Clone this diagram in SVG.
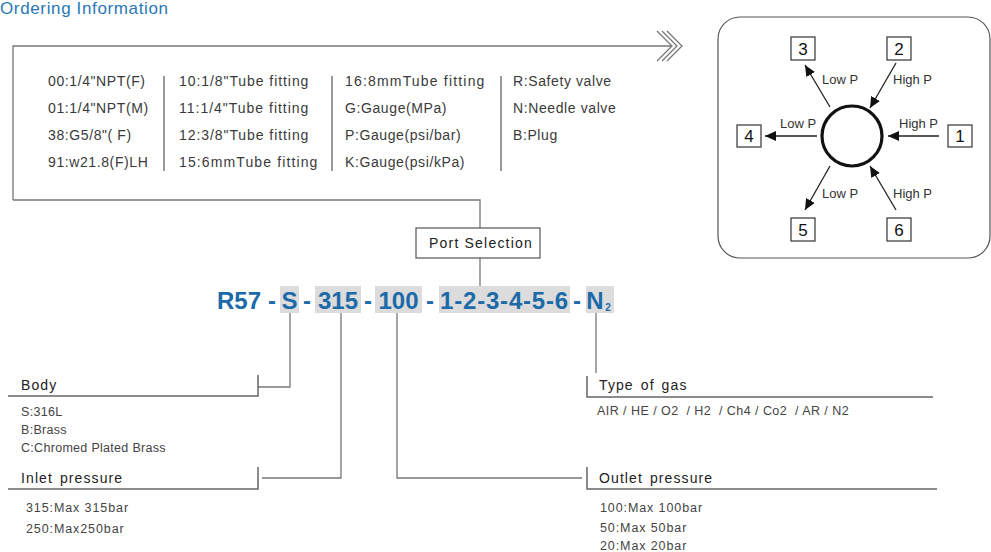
<svg xmlns="http://www.w3.org/2000/svg" width="991" height="552" viewBox="0 0 991 552">
<defs>
<marker id="ah" markerUnits="userSpaceOnUse" markerWidth="12" markerHeight="10" refX="11" refY="5" orient="auto"><path d="M0,0 L11,5 L0,10 Z" fill="#111"/></marker>
<style>
.t{font-family:"Liberation Sans",Arial,sans-serif}
.col{font-size:14px;fill:#3a3a3a;letter-spacing:0.6px}
.lab{font-size:14px;fill:#222;letter-spacing:1.1px;word-spacing:2px}
.itm{font-size:12.5px;fill:#444;letter-spacing:0.3px}
.pr{letter-spacing:0.9px}
.gas{letter-spacing:0.45px}
.code{font-size:24px;font-weight:bold;fill:#1d6aa8}
.hl{fill:#dcdcdc}
.ln{stroke:#777;stroke-width:1.3;fill:none}
.ul{stroke:#666;stroke-width:1.5;fill:none}
.sep{stroke:#555;stroke-width:1.2}
.pbox{fill:#fff;stroke:#333;stroke-width:1.2}
.pnum{font-size:17px;fill:#111;text-anchor:middle}
.plab{font-size:13px;fill:#333}
.arr{stroke:#222;stroke-width:1.3;fill:none;marker-end:url(#ah)}
</style>
</defs>
<rect width="991" height="552" fill="#fff"/>
<text class="t" x="0" y="14" font-size="17" fill="#2a78b6" textLength="168" lengthAdjust="spacing">Ordering Information</text>

<g id="connectors">
<path class="ln" d="M13,200 V46 H671"/>
<path class="ln" d="M13,200 H480 V228"/>
<path class="ln" d="M480,258 V287"/>
<polyline class="ln" points="657,31 672,46 657,61"/>
<polyline class="ln" points="662,31 677,46 662,61"/>
<polyline class="ln" points="667,31 682,46 667,61"/>
<path class="ln" d="M290,313 V387 H258"/>
<path class="ln" d="M341,313 V478 H262"/>
<path class="ln" d="M397,313 V478 H582"/>
<path class="ln" d="M596,313 V373"/>
</g>

<g id="port-options">
<line class="sep" x1="164" y1="76" x2="164" y2="171"/>
<line class="sep" x1="332" y1="76" x2="332" y2="171"/>
<line class="sep" x1="501" y1="76" x2="501" y2="171"/>
<g class="t col">
<text x="48" y="86">00:1/4"NPT(F)</text>
<text x="48" y="113">01:1/4"NPT(M)</text>
<text x="48" y="140">38:G5/8"( F)</text>
<text x="48" y="167">91:w21.8(F)LH</text>
<text x="179" y="86" textLength="130" lengthAdjust="spacing">10:1/8"Tube fitting</text>
<text x="179" y="113" textLength="130" lengthAdjust="spacing">11:1/4"Tube fitting</text>
<text x="179" y="140" textLength="130" lengthAdjust="spacing">12:3/8"Tube fitting</text>
<text x="179" y="167" textLength="139" lengthAdjust="spacing">15:6mmTube fitting</text>
<text x="345" y="86" textLength="140" lengthAdjust="spacing">16:8mmTube fitting</text>
<text x="345" y="113">G:Gauge(MPa)</text>
<text x="345" y="140">P:Gauge(psi/bar)</text>
<text x="345" y="167">K:Gauge(psi/kPa)</text>
<text x="513" y="86">R:Safety valve</text>
<text x="513" y="113">N:Needle valve</text>
<text x="513" y="140">B:Plug</text>
</g>
</g>

<g id="port-selection">
<rect x="416" y="228" width="124" height="30" fill="#fff" stroke="#555" stroke-width="1.2"/>
<text class="t" x="481" y="248" font-size="14" fill="#222" letter-spacing="1.2" text-anchor="middle">Port Selection</text>
</g>

<g id="code">
<rect class="hl" x="280" y="286" width="19" height="27"/>
<rect class="hl" x="315" y="286" width="46" height="27"/>
<rect class="hl" x="375" y="286" width="47" height="27"/>
<rect class="hl" x="439" y="286" width="131" height="27"/>
<rect class="hl" x="586" y="286" width="28" height="27"/>
<g class="t code" text-anchor="middle">
<text x="239" y="309">R57</text>
<text x="272" y="309">-</text>
<text x="289.5" y="309">S</text>
<text x="307" y="309">-</text>
<text x="338" y="309">315</text>
<text x="368" y="309">-</text>
<text x="398.5" y="309">100</text>
<text x="430" y="309">-</text>
<text x="504.5" y="309" letter-spacing="0.8">1-2-3-4-5-6</text>
<text x="577" y="309">-</text>
<text x="595" y="309">N</text>
<text x="608" y="311" font-size="10">2</text>
</g>
</g>

<g id="body">
<path class="ul" d="M8,396 H258 V375"/>
<text class="t lab" x="21" y="390">Body</text>
<text class="t itm" x="21" y="416">S:316L</text>
<text class="t itm" x="21" y="434">B:Brass</text>
<text class="t itm" x="21" y="452">C:Chromed Plated Brass</text>
</g>

<g id="inlet">
<path class="ul" d="M8,489 H258 V467"/>
<text class="t lab" x="21" y="483">Inlet pressure</text>
<text class="t itm pr" x="26" y="512">315:Max 315bar</text>
<text class="t itm pr" x="26" y="533">250:Max250bar</text>
</g>

<g id="gas">
<path class="ul" d="M587,376 V397 H933"/>
<text class="t lab" x="599" y="390">Type of gas</text>
<text class="t itm gas" x="597" y="415" xml:space="preserve">AIR / HE / O2  / H2  / Ch4 / Co2  / AR / N2</text>
</g>

<g id="outlet">
<path class="ul" d="M587,467 V489 H937"/>
<text class="t lab" x="599" y="483">Outlet pressure</text>
<text class="t itm pr" x="600" y="512">100:Max 100bar</text>
<text class="t itm pr" x="600" y="532">50:Max 50bar</text>
<text class="t itm pr" x="600" y="550">20:Max 20bar</text>
</g>

<g id="port-diagram">
<rect x="718" y="17" width="272" height="241" rx="22" fill="#fff" stroke="#555" stroke-width="1.2"/>
<circle cx="852" cy="136" r="30" fill="none" stroke="#111" stroke-width="3.2"/>
<g id="p3"><rect class="pbox" x="791" y="37" width="24" height="23"/><text class="t pnum" x="803" y="55">3</text></g>
<g id="p2"><rect class="pbox" x="887" y="37" width="24" height="23"/><text class="t pnum" x="899" y="55">2</text></g>
<g id="p4"><rect class="pbox" x="737" y="125" width="24" height="22"/><text class="t pnum" x="749" y="142">4</text></g>
<g id="p1"><rect class="pbox" x="948" y="125" width="24" height="22"/><text class="t pnum" x="960" y="142">1</text></g>
<g id="p5"><rect class="pbox" x="791" y="218" width="24" height="23"/><text class="t pnum" x="803" y="236">5</text></g>
<g id="p6"><rect class="pbox" x="887" y="218" width="24" height="23"/><text class="t pnum" x="899" y="236">6</text></g>
<line class="arr" x1="830" y1="107" x2="805" y2="65"/>
<line class="arr" x1="896" y1="63" x2="870" y2="108"/>
<line class="arr" x1="817" y1="136" x2="765" y2="136"/>
<line class="arr" x1="939" y1="136" x2="888" y2="136"/>
<line class="arr" x1="830" y1="166" x2="805" y2="210"/>
<line class="arr" x1="896" y1="210" x2="870" y2="166"/>
<g class="t plab">
<text x="822" y="84">Low P</text>
<text x="893" y="84">High P</text>
<text x="780" y="128">Low P</text>
<text x="899" y="128">High P</text>
<text x="822" y="198">Low P</text>
<text x="893" y="198">High P</text>
</g>
</g>
</svg>
